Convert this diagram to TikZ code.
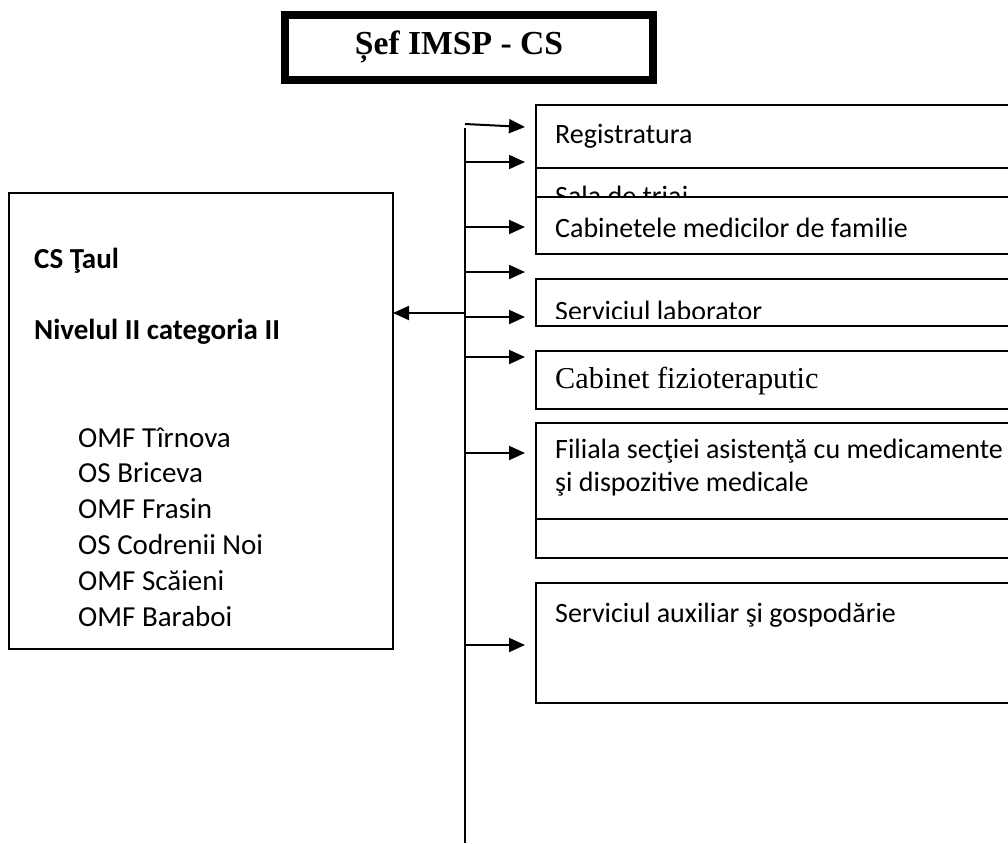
\documentclass[tikz,border=0pt]{standalone}
\usepackage{fontspec}
\setmainfont{Carlito}
\newfontfamily\tnr{Liberation Serif}
\usetikzlibrary{arrows.meta}
\begin{document}
\begin{tikzpicture}[x=1pt,y=-1pt,
  box/.style={draw,line width=2pt,fill=white,rectangle,anchor=north west,inner sep=0pt,outer sep=0pt,minimum width=480pt},
  lbl/.style={anchor=base west,inner sep=0pt,font=\fontsize{28}{34}\selectfont},
  llbl/.style={anchor=base west,inner sep=0pt,font=\fontsize{29}{35}\selectfont},
  arr/.style={line width=2pt,-{Triangle[length=16pt,width=14pt]}},
  ln/.style={line width=2pt}]
\useasboundingbox (0,0) rectangle (1008,843);
% title
\node[draw,line width=8pt,rectangle,anchor=north west,inner sep=0pt,minimum width=368pt,minimum height=65pt] (title) at (281,11) {};
\node[anchor=base,inner sep=0pt,font=\tnr\bfseries\fontsize{33.6}{40}\selectfont] (tt) at (459,55) {Șef IMSP - CS};
% left box
\node[box,minimum width=384pt,minimum height=456pt] (left) at (9,193) {};
\node[llbl,font=\bfseries\fontsize{29}{35}\selectfont] (l1) at (34,268) {CS Ţaul};
\node[llbl,font=\bfseries\fontsize{29}{35}\selectfont] (l2) at (34,339) {Nivelul II categoria II};
\node[llbl] (o1) at (78,447) {OMF Tîrnova};
\node[llbl] (o2) at (78,482) {OS Briceva};
\node[llbl] (o3) at (78,518) {OMF Frasin};
\node[llbl] (o4) at (78,554) {OS Codrenii Noi};
\node[llbl] (o5) at (78,590) {OMF Scăieni};
\node[llbl] (o6) at (78,626) {OMF Baraboi};
% right boxes
\node[box,minimum height=63pt] (reg) at (536,105) {};
\node[lbl] (regt) at (555,143) {Registratura};
\node[box,minimum height=72pt] (sala) at (536,168) {};
\node[lbl] (salat) at (555,205) {Sala de triaj};
\node[box,minimum height=57pt] (cab) at (536,197) {};
\node[lbl] (cabt) at (555,237) {Cabinetele medicilor de familie};
\node[box,minimum height=47pt] (lab) at (536,279) {};
\begin{scope}
\clip (536,279) rectangle (1008,318);
\node[lbl] (labt) at (555,320) {Serviciul laborator};
\end{scope}
\node[box,minimum height=58pt] (fiz) at (536,351) {};
\node[anchor=base west,inner sep=0pt,font=\tnr\fontsize{30.3}{36}\selectfont] (fizt) at (555,388) {Cabinet fizioteraputic};
\node[box,minimum height=135pt] (hid) at (536,423) {};
\node[box,minimum height=96pt] (fil) at (536,423) {};
\node[lbl] (filt1) at (555,458) {Filiala secţiei asistenţă cu medicamente};
\node[lbl] (filt2) at (555,491) {şi dispozitive medicale};
\node[box,minimum height=120pt] (aux) at (536,583) {};
\node[lbl] (auxt) at (555,622) {Serviciul auxiliar şi gospodărie};
% trunk
\coordinate (top) at (465,128);
\coordinate (bot) at (465,843);
\draw[ln] (top) -- (bot);
\coordinate (s1) at (465,124); \coordinate (e1) at (525,127);
\coordinate (s2) at (465,162); \coordinate (e2) at (525,162);
\coordinate (s3) at (465,227); \coordinate (e3) at (525,227);
\coordinate (s4) at (465,272); \coordinate (e4) at (525,272);
\coordinate (s5) at (465,317); \coordinate (e5) at (525,317);
\coordinate (s6) at (465,357); \coordinate (e6) at (525,357);
\coordinate (s7) at (465,453); \coordinate (e7) at (525,453);
\coordinate (s8) at (465,645); \coordinate (e8) at (525,645);
\foreach \i in {1,...,8} {\draw[arr] (s\i) -- (e\i);}
\coordinate (sL) at (465,313);
\draw[arr] (sL) -- (sL -| left.east);
\end{tikzpicture}
\end{document}
